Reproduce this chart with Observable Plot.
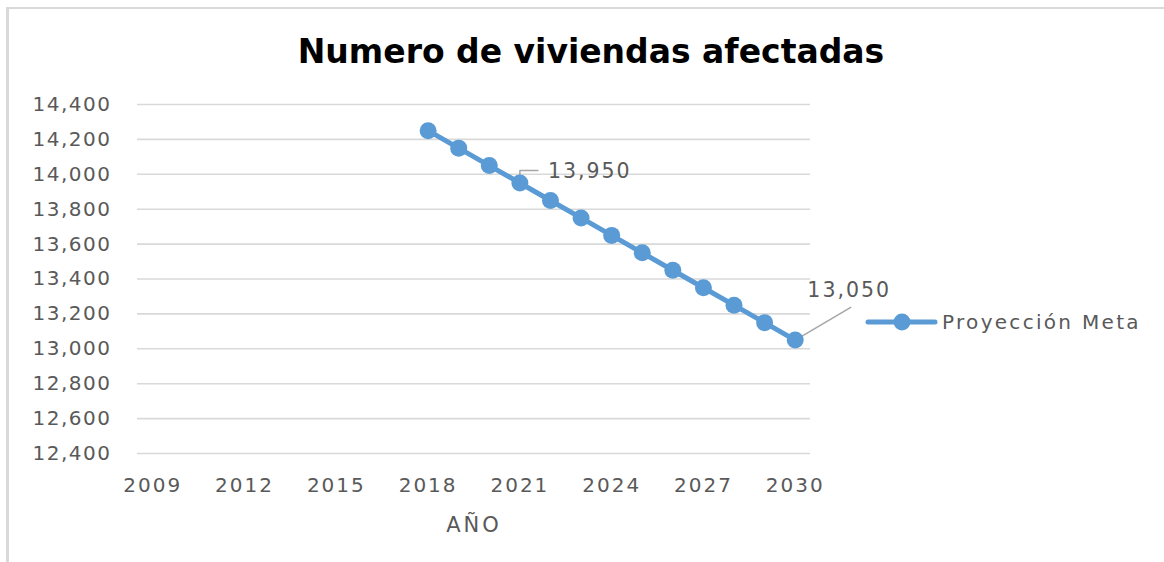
<!DOCTYPE html>
<html>
<head>
<meta charset="utf-8">
<script src="https://cdn.jsdelivr.net/npm/d3@7"></script>
<script src="https://cdn.jsdelivr.net/npm/@observablehq/plot@0.6"></script>
<style>
  html, body { margin: 0; padding: 0; background: #fff; }
  #wrap { position: relative; width: 1164px; height: 562px; overflow: hidden; background: #fff; }
  #frame { position: absolute; left: 6px; top: 7px; width: 1200px; height: 600px;
           border-top: 2px solid #d9d9d9; border-left: 3px solid #d9d9d9; box-sizing: border-box; }
  #chart { position: absolute; left: 0; top: 0; }
  #overlay { position: absolute; left: 0; top: 0; pointer-events: none; }
  #chart svg text { font-family: "DejaVu Sans", sans-serif; }
  #chart [aria-label="x-axis tick label"] text { letter-spacing: 2px; }
  #chart [aria-label="y-axis tick label"] text { letter-spacing: 1.5px; }
</style>
</head>
<body>
<div id="wrap">
  <div id="frame"></div>
  <div id="chart"></div>
  <svg id="overlay" width="1164" height="562"></svg>
</div>
<script>
// ---- data ----
const years = [2018, 2019, 2020, 2021, 2022, 2023, 2024, 2025, 2026, 2027, 2028, 2029, 2030];
const values = [14250, 14150, 14050, 13950, 13850, 13750, 13650, 13550, 13450, 13350, 13250, 13150, 13050];
const xTicks = [2009, 2012, 2015, 2018, 2021, 2024, 2027, 2030];
const yTicks = [12400, 12600, 12800, 13000, 13200, 13400, 13600, 13800, 14000, 14200, 14400];
const labeledYears = [2021, 2030];
const seriesName = "Proyección Meta";
const titleText = "Numero de viviendas afectadas";
const xTitle = "AÑO";

const data = years.map((y, i) => ({year: y, value: values[i]}));
const lab2021 = data.filter(d => d.year === labeledYears[0]);
const lab2030 = data.filter(d => d.year === labeledYears[1]);

const blue = "#5B9BD5";
const gray = "#595959";
const leader = "#a6a6a6";
const fmt = d3.format(",");

const W = 1164, H = 562;
const mL = 137, mR = W - 810, mT = 104, mB = H - 453;
const pxPerYear = (W - mL - mR) / 22;
const unitsPerPx = 2000 / (H - mT - mB);

// leader for 2021: up then right
const lead2021 = lab2021.flatMap(d => [
  {year: d.year, value: d.value},
  {year: d.year, value: d.value + 12.5 * unitsPerPx},
  {year: d.year + 18 / pxPerYear, value: d.value + 12.5 * unitsPerPx}
]);

const plot = Plot.plot({
  width: W,
  height: H,
  marginLeft: mL,
  marginRight: mR,
  marginTop: mT,
  marginBottom: mB,
  style: {fontFamily: "DejaVu Sans, sans-serif", background: "transparent", overflow: "visible"},
  x: {domain: [2008.5, 2030.5], ticks: xTicks, tickFormat: d => String(d), label: null, tickSize: 0, tickPadding: 24},
  y: {domain: [12400, 14400], ticks: yTicks, tickFormat: fmt, label: null, tickSize: 0, tickPadding: 26},
  marks: [
    Plot.ruleY(yTicks, {stroke: "#d9d9d9", strokeWidth: 1.6}),
    Plot.axisX({ticks: xTicks, tickFormat: d => String(d), tickSize: 0, tickPadding: 24, fontSize: 20, color: gray, label: null}),
    Plot.axisY({ticks: yTicks, tickFormat: fmt, tickSize: 0, tickPadding: 26, fontSize: 20, color: gray, label: null}),
    Plot.line(lead2021, {x: "year", y: "value", stroke: leader, strokeWidth: 1.5}),
    Plot.link(lab2030, {
      x1: "year", y1: "value",
      x2: d => d.year + 56 / pxPerYear, y2: d => d.value + 33 * unitsPerPx,
      stroke: leader, strokeWidth: 1.5
    }),
    Plot.line(data, {x: "year", y: "value", stroke: blue, strokeWidth: 5, strokeLinejoin: "round"}),
    Plot.dot(data, {x: "year", y: "value", r: 8.5, fill: blue, stroke: "none"}),
    Plot.text(lab2021, {x: "year", y: "value", text: d => fmt(d.value), dx: 28, dy: -11.5, textAnchor: "start",
      fontSize: 20.5, fill: gray}),
    Plot.text(lab2030, {x: "year", y: "value", text: d => fmt(d.value), dx: 54, dy: -50, textAnchor: "middle",
      fontSize: 20.5, fill: gray})
  ]
});
document.getElementById("chart").appendChild(plot);
plot.querySelectorAll('g[aria-label="text"] text').forEach(t => t.setAttribute("letter-spacing", "2"));

// overlay: title, axis title, legend
const ov = d3.select("#overlay");
ov.append("text").attr("x", 591).attr("y", 63).attr("text-anchor", "middle")
  .attr("font-family", "DejaVu Sans, sans-serif").attr("font-weight", "bold").attr("font-size", 33)
  .attr("fill", "#000").text(titleText);
ov.append("text").attr("x", 474).attr("y", 532).attr("text-anchor", "middle")
  .attr("font-family", "DejaVu Sans, sans-serif").attr("font-size", 21).attr("letter-spacing", 3)
  .attr("fill", gray).text(xTitle);
const lg = ov.append("g");
lg.append("line").attr("x1", 868).attr("x2", 935).attr("y1", 322).attr("y2", 322)
  .attr("stroke", blue).attr("stroke-width", 5).attr("stroke-linecap", "round");
lg.append("circle").attr("cx", 902).attr("cy", 322).attr("r", 8.5).attr("fill", blue);
lg.append("text").attr("x", 942).attr("y", 322).attr("dy", "0.36em")
  .attr("font-family", "DejaVu Sans, sans-serif").attr("font-size", 20).attr("letter-spacing", 2.3)
  .attr("fill", gray).text(seriesName);
</script>
</body>
</html>
